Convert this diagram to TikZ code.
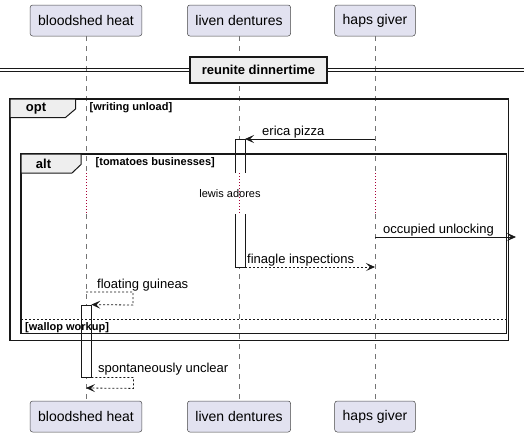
\documentclass[tikz,border=0pt]{standalone}
\usepackage{fontspec}
\setmainfont{Liberation Sans}
\usetikzlibrary{arrows.meta}
\definecolor{partfill}{HTML}{E2E2F0}
\definecolor{groupfill}{HTML}{EEEEEE}
\definecolor{linegray}{HTML}{181818}
\definecolor{delayred}{HTML}{A80036}

\begin{document}
\begin{tikzpicture}[x=1pt, y=-1pt, >={Stealth[length=9pt,width=8pt,inset=4pt]}]
    \tikzstyle{participant}=[rectangle, rounded corners=2.5pt, draw=linegray!80, line width=0.5pt, fill=partfill, font=\fontsize{14}{16}\selectfont, inner xsep=8pt, minimum height=31pt]
    \tikzstyle{lifeline}=[draw=linegray!60, line width=0.5pt, dash pattern=on 5pt off 5pt]
    \tikzstyle{delayline}=[draw=delayred, line width=0.8pt, dash pattern=on 0.8pt off 2.2pt]
    \tikzstyle{msg}=[font=\fontsize{13}{15}\selectfont, anchor=base west, inner sep=0pt]
    \tikzstyle{grouplabel}=[font=\bfseries\fontsize{11}{13}\selectfont, anchor=west, inner sep=0pt]
    \tikzstyle{tablabel}=[font=\bfseries\fontsize{13}{15}\selectfont, inner sep=0pt]
    \tikzstyle{tabbox}=[draw=linegray, line width=1pt, fill=groupfill]
    \tikzstyle{groupframe}=[draw=linegray, line width=1.5pt]
    \tikzstyle{call}=[->, draw=linegray, line width=0.8pt]
    \tikzstyle{reply}=[call, dash pattern=on 2pt off 2pt]
    \tikzstyle{activation}=[draw=linegray, line width=0.8pt, fill=white]
    \tikzstyle{divider}=[draw=linegray, line width=1.5pt, fill=groupfill, minimum width=137pt, minimum height=26pt, font=\bfseries\fontsize{13}{15}\selectfont]

    \useasboundingbox (0,0) rectangle (524,437);

    % participants, top and bottom
    \foreach \x/\lab [count=\i] in {86/bloodshed heat, 239/liven dentures, 375/haps giver}
    {
    \node [participant] (top-\i) at (\x,20.5) {\lab};
    \node [participant] (bot-\i) at (\x,416.5) {\lab};
    \coordinate (gapa-\i) at (\x,173);
    \coordinate (gapb-\i) at (\x,214);
    }

    % Draw the lifelines with the delay
    \foreach \i in {1,2,3}
    {
    \draw [lifeline] (top-\i.south) -- (gapa-\i);
    \draw [delayline] (gapa-\i) -- (gapb-\i);
    \draw [lifeline] (gapb-\i) -- (bot-\i.north);
    }

    % activations
    \draw [activation] (235,173) -- (235,139) -- (245,139) -- (245,173);
    \draw [activation] (235,214) -- (235,267) -- (245,267) -- (245,214);
    \node [activation, minimum width=10pt, minimum height=72pt, inner sep=0pt] (bh-act) at (86,341) {};

    % divider
    \draw [linegray, line width=0.7pt] (0,68) -- (524,68);
    \draw [linegray, line width=0.7pt] (0,71) -- (524,71);
    \node [divider] (reunite) at (258.5,70) {reunite dinnertime};

    % opt frame
    \draw [groupframe] (10,99) -- (508.5,99) -- (508.5,340.5) -- (10,340.5) -- cycle;
    \draw [tabbox] (10,99) -- (75.5,99) -- (75.5,109) -- (65.5,117.5) -- (10,117.5) -- cycle;
    \node [tablabel] (opt-tab) at (36,108.5) {opt};
    \node [grouplabel] (opt-guard) at (89.5,107.5) {[writing unload]};

    % alt frame
    \draw [groupframe] (21,154) -- (506.5,154) -- (506.5,333.5) -- (21,333.5) -- cycle;
    \draw [tabbox] (21,154) -- (81,154) -- (81,164.5) -- (72,173) -- (21,173) -- cycle;
    \node [tablabel] (alt-tab) at (43.5,163.5) {alt};
    \node [grouplabel] (alt-guard) at (95.5,163) {[tomatoes businesses]};
    \draw [linegray, line width=0.6pt, dash pattern=on 2pt off 2pt] (21,319) -- (506.5,319);
    \node [grouplabel] (else-guard) at (25,327.5) {[wallop workup]};

    \node [font=\fontsize{11}{13}\selectfont, anchor=base, inner sep=0pt] (lewis) at (230,197) {lewis adores};

    % message end points
    \coordinate (haps-erica) at (375,139);
    \coordinate (liven-erica) at (245,139);
    \coordinate (haps-lost) at (375,237);
    \coordinate (lost-end) at (516,237);
    \coordinate (liven-fin) at (245,267);
    \coordinate (haps-fin) at (375,267);
    \coordinate (bh-float) at (86,292);
    \coordinate (bh-spont) at (86,388);

    % Draw the messages
    \draw [call] (haps-erica) -- (liven-erica);
    \node [msg] at (262,135) {erica pizza};

    \draw [call] (haps-lost) -- (lost-end);
    \node [msg] at (383,233) {occupied unlocking};

    \draw [reply] (liven-fin) -- (haps-fin);
    \node [msg] at (247,263) {finagle inspections};

    \draw [reply] (bh-float) -- ++(47,0) -- ++(0,13) -- (bh-act.north east);
    \node [msg] at (97,288) {floating guineas};

    \draw [reply] (bh-act.south east) -- ++(42,0) -- ++(0,11) -- (bh-spont);
    \node [msg] at (98,372) {spontaneously unclear};

\end{tikzpicture}
\end{document}
